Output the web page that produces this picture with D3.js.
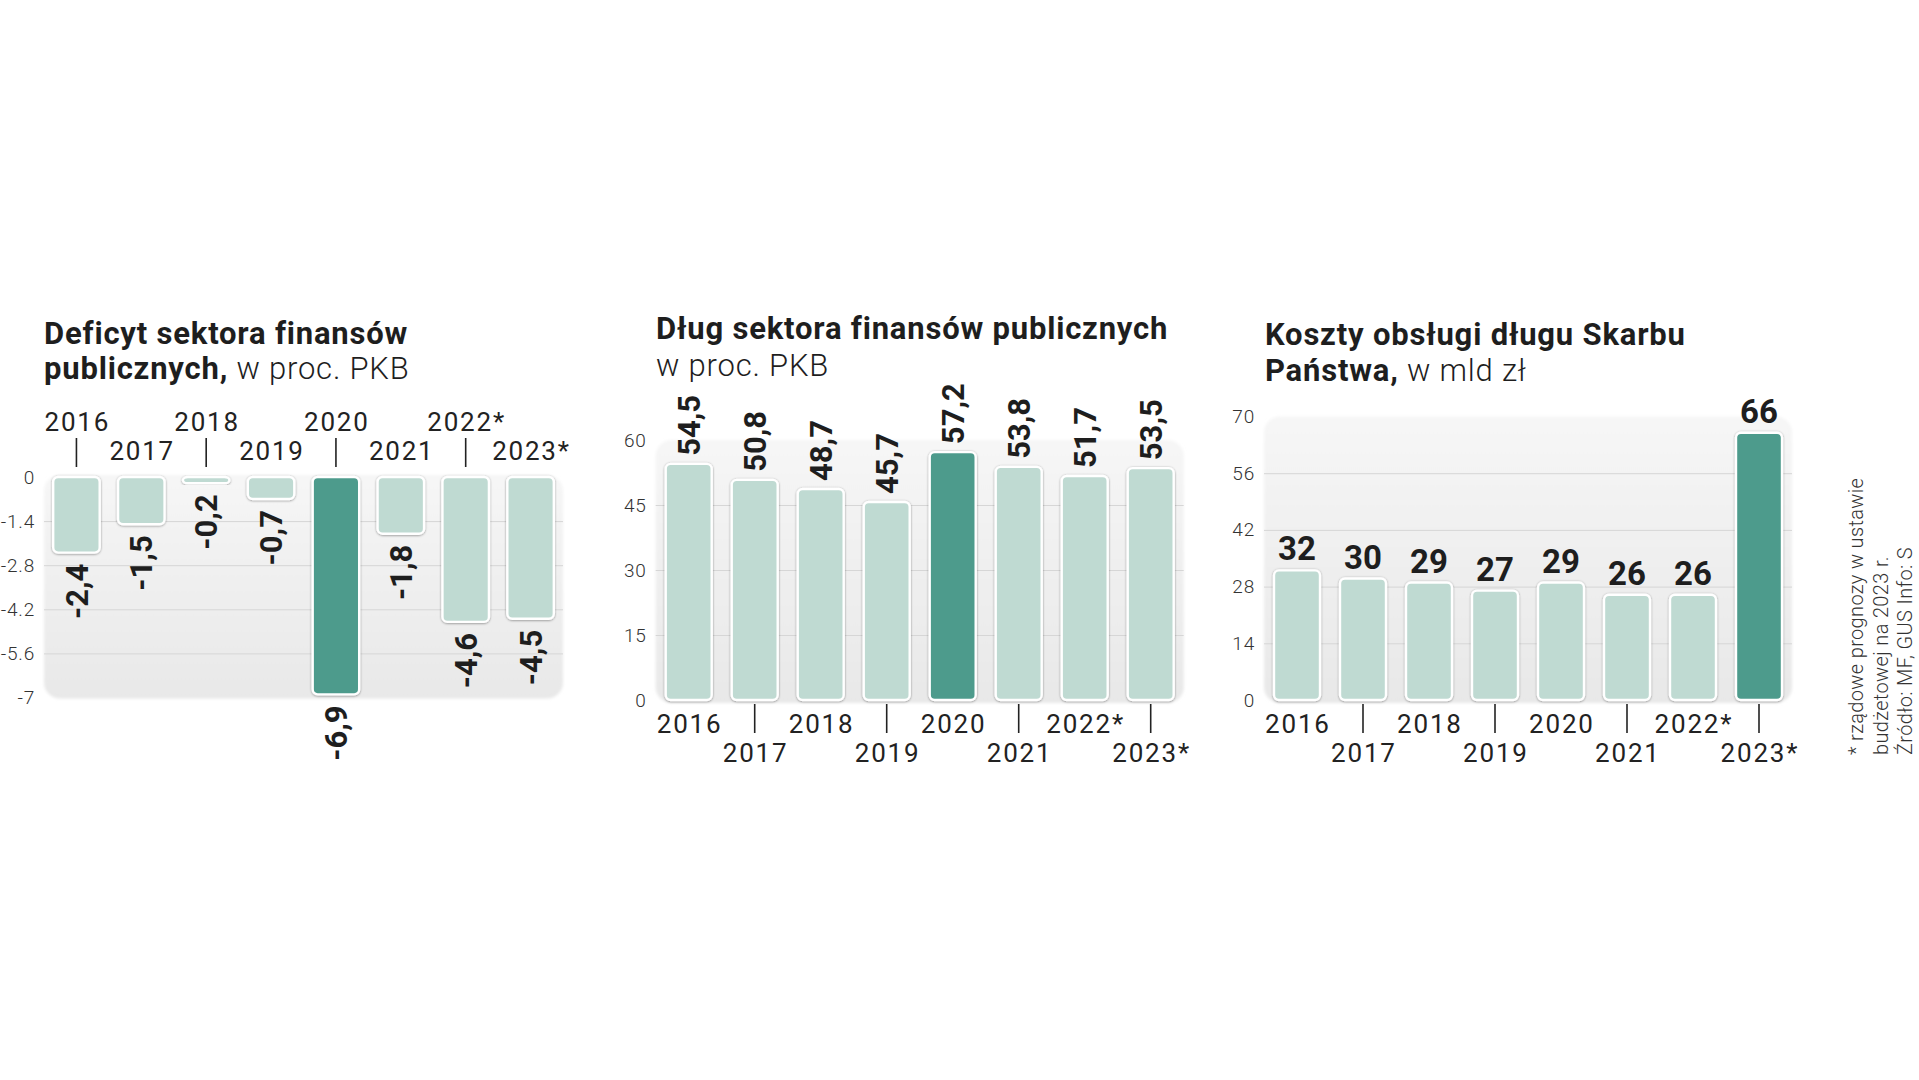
<!DOCTYPE html>
<html lang="pl">
<head>
<meta charset="utf-8">
<script src="https://cdn.jsdelivr.net/npm/d3@7"></script>
<style>
  html, body { margin: 0; padding: 0; background: #fff; }
  svg { display: block; }
  .title { font-family: Roboto, "Noto Sans", sans-serif; font-weight: 700; fill: #1e1e1e; letter-spacing: 0.8px; }
  .light { font-weight: 300; }
  .year { font-family: Roboto, "Noto Sans", sans-serif; font-weight: 400; fill: #222; letter-spacing: 1.8px; }
  .ytick text { font-family: Roboto, "Noto Sans", sans-serif; font-weight: 300; fill: #333; font-size: 19px; letter-spacing: 0.8px; }
  .val { font-family: Roboto, "Noto Sans", sans-serif; font-weight: 700; fill: #1e1e1e; }
  .note { font-family: Roboto, "Noto Sans", sans-serif; font-weight: 300; fill: #333; letter-spacing: 0.35px; }
</style>
</head>
<body>
<script>
// ---------- DATA ----------
const years = ["2016", "2017", "2018", "2019", "2020", "2021", "2022*", "2023*"];
const deficit = [-2.4, -1.5, -0.2, -0.7, -6.9, -1.8, -4.6, -4.5];
const debt = [54.5, 50.8, 48.7, 45.7, 57.2, 53.8, 51.7, 53.5];
const costs = [32, 30, 29, 27, 29, 26, 26, 66];
const deficitTicks = [0, -1.4, -2.8, -4.2, -5.6, -7];
const debtTicks = [0, 15, 30, 45, 60];
const costTicks = [0, 14, 28, 42, 56, 70];
const deficitHighlight = "2020";
const debtHighlight = "2020";
const costHighlight = "2023*";
const footnote = ["* rządowe prognozy w ustawie", "budżetowej na 2023 r.", "Źródło: MF, GUS  Info: S"];

// ---------- STYLE ----------
const LIGHT = "#bfdad2";
const DARK = "#4e9b8c";
const fmt = v => String(v).replace(".", ",");

const svg = d3.select("body").append("svg")
  .attr("width", 1919).attr("height", 1080);

const defs = svg.append("defs");
const grad = defs.append("linearGradient").attr("id", "bgGrad")
  .attr("x1", 0).attr("y1", 0).attr("x2", 0).attr("y2", 1);
grad.append("stop").attr("offset", "0%").attr("stop-color", "#f6f6f6");
grad.append("stop").attr("offset", "100%").attr("stop-color", "#e8e8e8");
const blur = defs.append("filter").attr("id", "soft")
  .attr("x", "-5%").attr("y", "-5%").attr("width", "110%").attr("height", "110%");
blur.append("feGaussianBlur").attr("stdDeviation", 1.6);
const shadow = defs.append("filter").attr("id", "barShadow")
  .attr("x", "-20%").attr("y", "-20%").attr("width", "140%").attr("height", "140%");
shadow.append("feDropShadow").attr("dx", 0).attr("dy", 0.6).attr("stdDeviation", 1.1)
  .attr("flood-color", "#000").attr("flood-opacity", 0.42);

function title(x, y1, y2, line1, bold2, light2) {
  const g = svg.append("g");
  g.append("text").attr("class", "title").attr("x", x).attr("y", y1)
    .attr("font-size", 31).text(line1);
  const t = g.append("text").attr("class", "title").attr("x", x).attr("y", y2).attr("font-size", 31);
  if (bold2) t.append("tspan").text(bold2);
  t.append("tspan").attr("class", "light").text(light2);
}

function chart(opts) {
  const { values, ticks, domain, xr, yr, bgTop, bgBottom, highlight, mode } = opts;
  const g = svg.append("g");
  const step = (xr[1] - xr[0]) / years.length;
  const pad = 1 - opts.bw / step;
  const x = d3.scaleBand().domain(years).range(xr).paddingInner(pad).paddingOuter(pad / 2);
  const y = d3.scaleLinear().domain(domain).range(yr);

  // background panel
  g.append("rect")
    .attr("x", xr[0]).attr("width", xr[1] - xr[0])
    .attr("y", bgTop).attr("height", bgBottom - bgTop)
    .attr("rx", 16).attr("fill", "url(#bgGrad)").attr("filter", "url(#soft)");

  // gridlines
  const inner = ticks.filter(t => t !== domain[0] && t !== domain[1]);
  g.append("g").attr("transform", `translate(${xr[0]},0)`)
    .call(d3.axisLeft(y).tickValues(inner).tickSize(-(xr[1] - xr[0])).tickFormat(""))
    .call(s => s.select(".domain").remove())
    .call(s => s.selectAll("line").attr("stroke", "#d6d6d6").attr("stroke-width", 1));

  // y tick labels
  g.append("g").attr("class", "ytick").attr("transform", `translate(${xr[0] - 9},0)`)
    .call(d3.axisLeft(y).tickValues(ticks).tickSize(0).tickPadding(0).tickFormat(d => String(d)))
    .call(s => s.select(".domain").remove());

  // bars
  g.append("g").selectAll("rect").data(years).join("rect")
    .attr("x", d => x(d))
    .attr("width", x.bandwidth())
    .attr("y", (d, i) => Math.min(y(0), y(values[i])))
    .attr("height", (d, i) => Math.abs(y(values[i]) - y(0)))
    .attr("rx", 5)
    .attr("fill", d => d === highlight ? DARK : LIGHT)
    .attr("stroke", "#fff").attr("stroke-width", 2.4)
    .attr("filter", "url(#barShadow)");

  // value labels
  const vl = g.append("g").selectAll("text").data(years).join("text").attr("class", "val");
  if (mode === "neg") {
    vl.attr("font-size", 31).attr("text-anchor", "end").attr("dy", "0.36em")
      .attr("transform", (d, i) => `translate(${x(d) + x.bandwidth() / 2},${y(values[i]) + 11}) rotate(-90)`)
      .text((d, i) => fmt(values[i]));
  } else if (mode === "rot") {
    vl.attr("font-size", 31).attr("text-anchor", "start").attr("dy", "0.36em")
      .attr("transform", (d, i) => `translate(${x(d) + x.bandwidth() / 2},${y(values[i]) - 8}) rotate(-90)`)
      .text((d, i) => fmt(values[i]));
  } else {
    vl.attr("font-size", 33).attr("text-anchor", "middle")
      .attr("x", d => x(d) + x.bandwidth() / 2)
      .attr("y", (d, i) => y(values[i]) - 10)
      .text((d, i) => fmt(values[i]));
  }

  // year labels (staggered) + ticks
  const yl = opts.yearRows;
  g.append("g").selectAll("text").data(years).join("text").attr("class", "year")
    .attr("font-size", 26).attr("text-anchor", "middle")
    .attr("x", d => x(d) + x.bandwidth() / 2 + 0.9)
    .attr("y", (d, i) => i % 2 === 0 ? yl[0] : yl[1])
    .text(d => d);
  g.append("g").selectAll("line").data(years.filter((d, i) => i % 2 === opts.tickParity)).join("line")
    .attr("x1", d => x(d) + x.bandwidth() / 2).attr("x2", d => x(d) + x.bandwidth() / 2)
    .attr("y1", opts.tickY[0]).attr("y2", opts.tickY[1])
    .attr("stroke", "#222").attr("stroke-width", 1.6);
}

// ---------- CHART 1 ----------
title(44, 344, 379, "Deficyt sektora finansów", "publicznych,", " w proc. PKB");
chart({
  values: deficit, ticks: deficitTicks, domain: [0, -7],
  xr: [44, 563], yr: [477, 697.5], bw: 46.5,
  bgTop: 475, bgBottom: 698.5, highlight: deficitHighlight, mode: "neg",
  yearRows: [431, 460], tickParity: 0, tickY: [438, 467]
});

// ---------- CHART 2 ----------
title(656, 339, 376, "Dług sektora finansów publicznych", "", "w proc. PKB");
chart({
  values: debt, ticks: debtTicks, domain: [0, 60],
  xr: [655.7, 1183.7], yr: [700, 440], bw: 46,
  bgTop: 440, bgBottom: 703, highlight: debtHighlight, mode: "rot",
  yearRows: [733, 762], tickParity: 1, tickY: [704, 733]
});

// ---------- CHART 3 ----------
title(1265, 345, 381, "Koszty obsługi długu Skarbu", "Państwa,", " w mld zł");
chart({
  values: costs, ticks: costTicks, domain: [0, 70],
  xr: [1264, 1792], yr: [700, 416.5], bw: 46,
  bgTop: 416.5, bgBottom: 703, highlight: costHighlight, mode: "up",
  yearRows: [733, 762], tickParity: 1, tickY: [704, 733]
});

// ---------- FOOTNOTE ----------
svg.append("g").selectAll("text").data(footnote).join("text").attr("class", "note")
  .attr("font-size", 20)
  .attr("transform", (d, i) => `translate(${1863 + i * 24.5},755) rotate(-90)`)
  .text(d => d);
</script>
</body>
</html>
